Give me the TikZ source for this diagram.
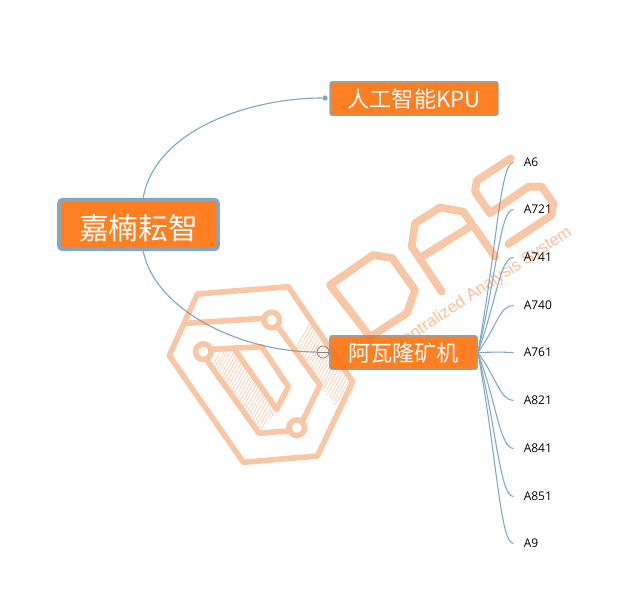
\documentclass[tikz,border=0pt]{standalone}
\usepackage{fontspec}
\setmainfont{Noto Sans CJK SC}
\newfontfamily\leaffont{Open Sans}
\newfontfamily\markfont{Liberation Sans}
\definecolor{nodefill}{HTML}{FF7F22}
\definecolor{linkblue}{HTML}{7FA8C6}
\definecolor{nodeedge}{HTML}{8CA6B8}
\definecolor{markcol}{HTML}{F07020}
\begin{document}
\begin{tikzpicture}[
      x=0.75pt,y=-0.75pt,
      topic/.style={draw=nodeedge,line width=1pt,fill=nodefill,text=white,rounded corners=1.5pt,inner sep=0pt,text height=13.5pt,text depth=0pt,font=\fontsize{16.6}{18}\selectfont},
      central/.style={topic,draw=linkblue,line width=2.6pt,rounded corners=3pt,text height=22.6pt,font=\fontsize{22.3}{24}\selectfont},
      leaf/.style={anchor=west,inner sep=0pt,inner xsep=7.5pt,font=\leaffont\fontsize{9}{10}\selectfont,text=black},
      link/.style={draw=linkblue,line width=0.85pt},
      fan/.style={draw=linkblue,line width=0.8pt},
      folded/.style={circle,draw=gray,line width=0.6pt,minimum size=9pt,inner sep=0pt},
      endpoint/.style={circle,fill=linkblue,minimum size=4pt,inner sep=0pt},
      markline/.style={draw=markcol,line width=4.2pt,line cap=round,line join=round},
      letterline/.style={draw=markcol,line width=5.8pt,line cap=round,line join=round},
      markhatch/.style={draw=markcol,line width=0.45pt}
    ]
    \useasboundingbox (0,0) rectangle (631,597);
    % The slogan lies under the topics.
    \node[text=markcol,rotate=33.5,opacity=0.45,inner sep=0pt,font=\markfont\fontsize{12.5}{14}\selectfont] (slogan) at (482,289) {Centralized Analysis System};
    % Draw the topics.
    \node[central,minimum width=119.5pt,minimum height=37.5pt] (root) at (138.5,224.5) {嘉楠耘智};
    \node[topic,minimum width=126pt,minimum height=25pt] (kpu) at (414,98.5) {人工智能KPU};
    \node[topic,minimum width=110.5pt,minimum height=25pt] (avalon) at (403.5,352.5) {阿瓦隆矿机};
    \node[endpoint] (kpudot) at (325,98) {};
    \node[folded] (fold) at (323,352) {};
    % Draw the branches.
    \draw[link] (root.80) .. controls +(12,-68) and +(-75,0) .. (kpudot);
    \draw[link] (root.-80) .. controls +(12,59) and +(-76,0) .. (fold.west);
    \draw[draw=gray,line width=0.6pt] (fold.west) -- (fold.east);
    % Draw the leaves.
    \foreach \name/\ypos in {A6/162,A721/209,A741/257,A740/305,A761/352,A821/400,A841/448,A851/496,A9/543}{
      \node[leaf] (\name) at (513.5,\ypos+0.5) {\name};
      \draw[fan] (avalon.east) .. controls (497,{352+0.55*(\ypos-352)}) and (500,\ypos) .. (\name.west);
    }
    % Draw the watermark.
    \begin{scope}[opacity=0.4,transparency group]
      \begin{scope}
        \clip (286.5,290) -- (351,381.7) -- (336,406) -- (320,385) -- (278,327) -- (277,310) -- cycle;
        \foreach \hx in {0,3.4,...,140}{
          \draw[markhatch] (255+\hx,420) -- (255+\hx+80,280);
        }
      \end{scope}
      \begin{scope}
        \clip (213,350) -- (235,350) -- (277,409) -- (262,432) -- (259,433) -- (208,362) -- cycle;
        \foreach \hx in {0,3.4,...,100}{
          \draw[markhatch] (170+\hx,440) -- (170+\hx+60,335);
        }
      \end{scope}
      % hexagon outline
      \draw[markline] (197.3,294) -- (288.3,286.7) -- (352.7,381.7) -- (317.3,456) -- (243.3,462.3) -- (169.3,355.7) -- cycle;
      \draw[markline] (186,323.3) -- (264,318.3);
      \draw[markline] (278,327) -- (320,385) -- (303,420);
      \draw[markline] (287,431) -- (259,433.3) -- (208,362);
      \draw[markline] (213,349.3) -- (261.7,346.7) -- (288.3,386.7) -- (276.7,409.3) -- (235,350);
      \draw[markline] (271.7,320) circle (7.8);
      \draw[markline] (203.3,351.7) circle (7.8);
      \draw[markline] (296.7,427.7) circle (7.8);
      % the letters
      \draw[letterline] (330,285) -- (373,255) -- (392,258) -- (415,290) -- (407,313) -- (370,337) -- cycle;
      \draw[letterline] (441.7,291.7) -- (411.7,246.7) -- (415,223.3) -- (440,207.5) -- (463.3,211.7) -- (495,256.7);
      \draw[letterline] (420,258) -- (470,226.7);
      \draw[letterline] (510.7,158.3) -- (476.7,180.7) -- (475,191.7) -- (490,213.3) -- (528.3,186.7) -- (541.7,186.7) -- (553.3,203.3) -- (551.7,215) -- (508.3,244);
    \end{scope}
\end{tikzpicture}
\end{document}
